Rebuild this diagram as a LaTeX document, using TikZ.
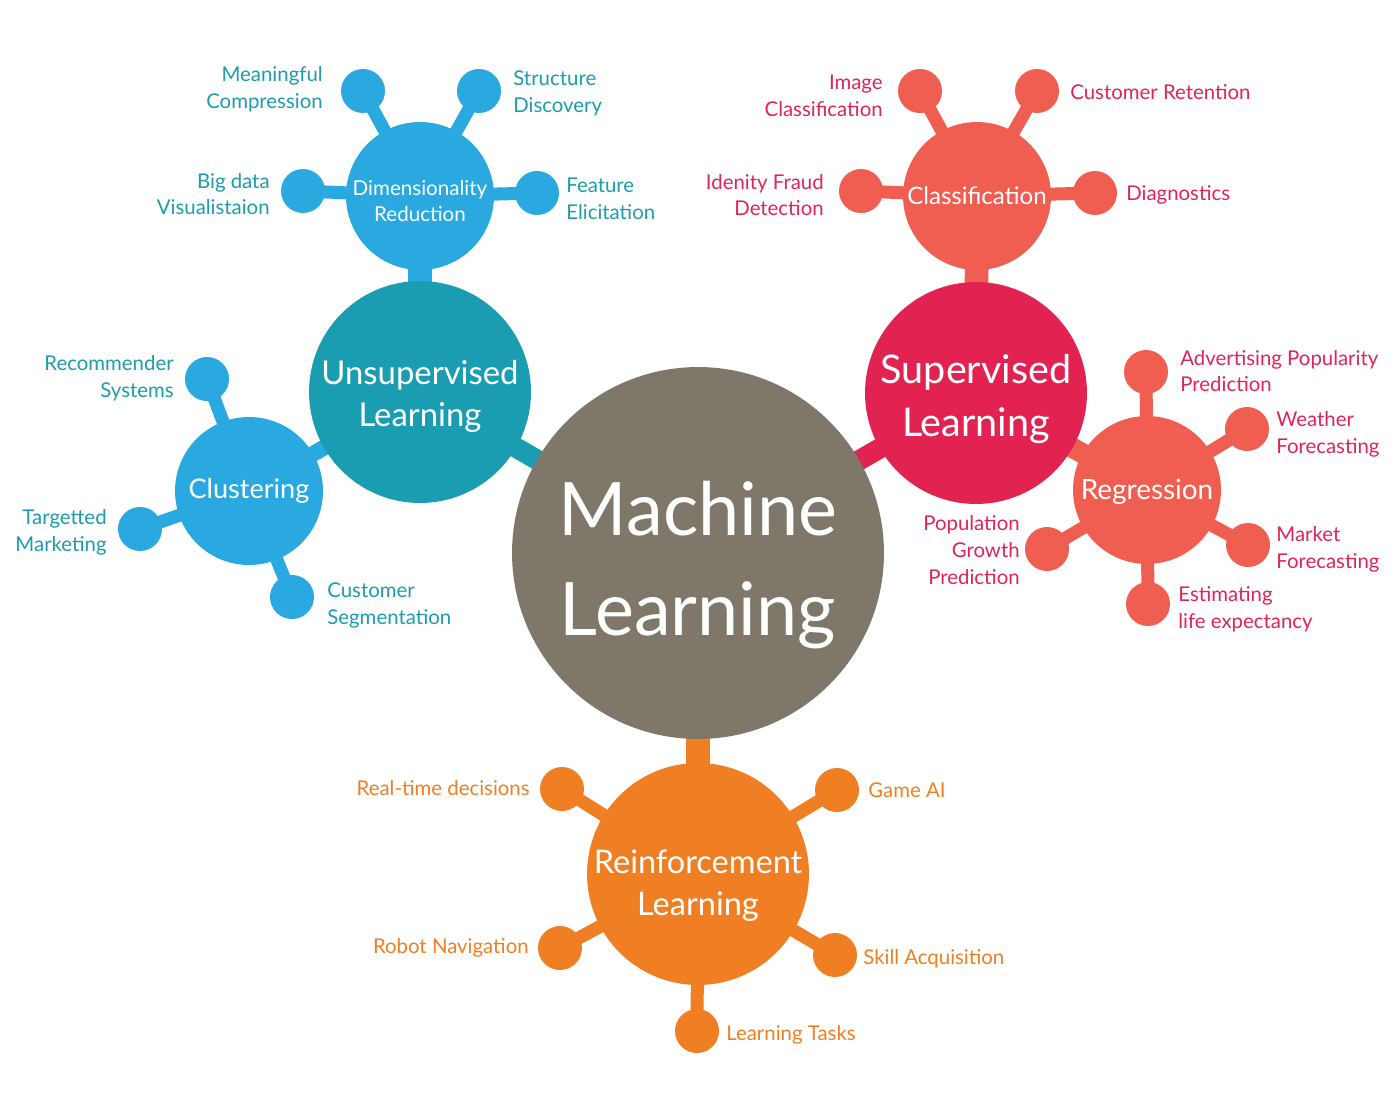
\documentclass[tikz,border=0pt]{standalone}
\usepackage{fontspec}
\setmainfont{Lato}
\definecolor{mlgray}{HTML}{7E776A}
\definecolor{uteal}{HTML}{1A9DB0}
\definecolor{ublue}{HTML}{29A9E0}
\definecolor{utext}{HTML}{1C9CAC}
\definecolor{scrim}{HTML}{E22352}
\definecolor{ssalm}{HTML}{F05E52}
\definecolor{stext}{HTML}{E0245A}
\definecolor{rorange}{HTML}{EF7F22}
\pgfdeclarelayer{bg}
\pgfsetlayers{bg,main}
\tikzset{
  bub/.style={circle,inner sep=0pt},
  bigbub/.style={bub,minimum size=4.44cm},
  midbub/.style={bub,minimum size=2.96cm},
  leaf/.style={circle,inner sep=0pt,minimum size=0.88cm},
  btxt/.style={inner sep=0pt,text=white,align=center},
  lab/.style={inner sep=0pt,yshift=-1.2pt,font=\fontsize{11.6pt}{15.3pt}\selectfont},
  labl/.style={lab,anchor=west,align=left},
  labr/.style={lab,anchor=east,align=right},
  thickbar/.style={line width=11.5pt},
  midbar/.style={line width=9pt},
  thinbar/.style={line width=7.4pt},
}
\begin{document}
\begin{tikzpicture}[x=0.02cm,y=-0.02cm]
\useasboundingbox (0,0) rectangle (1398,1112);
% central
\node[bub,minimum size=7.44cm,fill=mlgray] (ml) at (698,553) {};
\node[btxt,font=\fontsize{42pt}{57pt}\selectfont] (mlT) at ([yshift=-6.8pt]ml.center) {Machine\\Learning};
% big ones
\node[bigbub,fill=uteal] (ul) at (420,392) {};
\node[btxt,font=\fontsize{18.7pt}{24pt}\selectfont] (ulT) at ([yshift=-2.3pt]ul.center) {Unsupervised\\Learning};
\node[bigbub,fill=scrim] (sl) at (976,393) {};
\node[btxt,font=\fontsize{22.5pt}{30.5pt}\selectfont] (slT) at ([yshift=-3.4pt]sl.center) {Supervised\\Learning};
\node[bigbub,fill=rorange] (rl) at (698,874) {};
\node[btxt,font=\fontsize{18.5pt}{24pt}\selectfont] (rlT) at ([yshift=-6.8pt]rl.center) {Reinforcement\\Learning};
% mid ones
\node[midbub,fill=ublue] (dr) at (420,196) {};
\node[btxt,font=\fontsize{11.7pt}{15pt}\selectfont] (drT) at ([yshift=-2.8pt]dr.center) {Dimensionality\\Reduction};
\node[midbub,fill=ublue] (cl) at (249,491) {};
\node[btxt,font=\fontsize{15.4pt}{20pt}\selectfont] (clT) at (cl.center) {Clustering};
\node[midbub,fill=ssalm] (cf) at (977,196) {};
\node[btxt,font=\fontsize{13.7pt}{16pt}\selectfont] (cfT) at (cf.center) {Classification};
\node[midbub,fill=ssalm] (rg) at (1147,490) {};
\node[btxt,font=\fontsize{15.9pt}{20pt}\selectfont] (rgT) at ([yshift=-1pt]rg.center) {Regression};
% leaves: dimensionality
\node[leaf,fill=ublue] (d1) at (363,91) {};
\node[leaf,fill=ublue] (d2) at (479,91) {};
\node[leaf,fill=ublue] (d3) at (303,191) {};
\node[leaf,fill=ublue] (d4) at (537,193) {};
% clustering
\node[leaf,fill=ublue] (c1) at (207,379) {};
\node[leaf,fill=ublue] (c2) at (140,529) {};
\node[leaf,fill=ublue] (c3) at (292,597) {};
% classification
\node[leaf,fill=ssalm] (k1) at (920,91) {};
\node[leaf,fill=ssalm] (k2) at (1037,91) {};
\node[leaf,fill=ssalm] (k3) at (861,191) {};
\node[leaf,fill=ssalm] (k4) at (1095,193) {};
% regression
\node[leaf,fill=ssalm] (g1) at (1146,372) {};
\node[leaf,fill=ssalm] (g2) at (1247,429) {};
\node[leaf,fill=ssalm] (g3) at (1248,545) {};
\node[leaf,fill=ssalm] (g4) at (1148,604) {};
\node[leaf,fill=ssalm] (g5) at (1047,549) {};
% reinforcement
\node[leaf,fill=rorange] (r1) at (562,789) {};
\node[leaf,fill=rorange] (r2) at (837,790) {};
\node[leaf,fill=rorange] (r3) at (560,948) {};
\node[leaf,fill=rorange] (r4) at (835,955) {};
\node[leaf,fill=rorange] (r5) at (697,1031) {};
% connectors
\begin{pgfonlayer}{bg}
\draw[thickbar,uteal] (ml.center) -- (ul.center);
\draw[thickbar,scrim] (ml.center) -- (sl.center);
\draw[line width=14pt,rorange] (ml.center) -- (rl.center);
\draw[line width=13.5pt,ublue] (ul.center) -- (dr.center);
\draw[midbar,ublue] (ul.center) -- (cl.center);
\draw[line width=13.5pt,ssalm] (sl.center) -- (cf.center);
\draw[thickbar,ssalm] (sl.center) -- (rg.center);
\foreach \a in {d1,d2,d3,d4} \draw[thinbar,ublue] (dr.center) -- (\a.center);
\foreach \a in {c1,c2,c3} \draw[thinbar,ublue] (cl.center) -- (\a.center);
\foreach \a in {k1,k2,k3,k4} \draw[thinbar,ssalm] (cf.center) -- (\a.center);
\foreach \a in {g1,g2,g3,g4,g5} \draw[thinbar,ssalm] (rg.center) -- (\a.center);
\foreach \a in {r1,r2,r3,r4,r5} \draw[thinbar,rorange] (rl.center) -- (\a.center);
\end{pgfonlayer}
% labels unsupervised
\node[labr,text=utext] (t1) at (323,87) {Meaningful\\Compression};
\node[labl,text=utext] (t2) at (513,91) {Structure\\Discovery};
\node[labr,text=utext] (t3) at (270,192) {Big data\\Visualistaion};
\node[labl,text=utext] (t4) at (566,197) {Feature\\Elicitation};
\node[labr,text=utext] (t5) at (174,376) {Recommender\\Systems};
\node[labr,text=utext] (t6) at (107,530) {Targetted\\Marketing};
\node[labl,text=utext] (t7) at (327,603) {Customer\\Segmentation};
% labels supervised
\node[labr,text=stext] (s1) at (883,94) {Image\\Classification};
\node[labl,text=stext] (s2) at (1070,90) {Customer Retention};
\node[labr,text=stext] (s3) at (824,193) {Idenity Fraud\\Detection};
\node[labl,text=stext] (s4) at (1126,193) {Diagnostics};
\node[labl,text=stext] (s5) at (1180,369) {Advertising Popularity\\Prediction};
\node[labl,text=stext] (s6) at (1276,432) {Weather\\Forecasting};
\node[labl,text=stext] (s7) at (1276,547) {Market\\Forecasting};
\node[labl,text=stext] (s8) at (1178,607) {Estimating\\life expectancy};
\node[labr,text=stext] (s9) at (1020,548) {Population\\Growth\\Prediction};
% labels reinforcement
\node[labr,text=rorange] (q1) at (530,786) {Real-time decisions};
\node[labl,text=rorange] (q2) at (868,788) {Game AI};
\node[labr,text=rorange] (q3) at (529,946) {Robot Navigation};
\node[labl,text=rorange] (q4) at (863,957) {Skill Acquisition};
\node[labl,text=rorange] (q5) at (726,1033) {Learning Tasks};
\end{tikzpicture}
\end{document}
